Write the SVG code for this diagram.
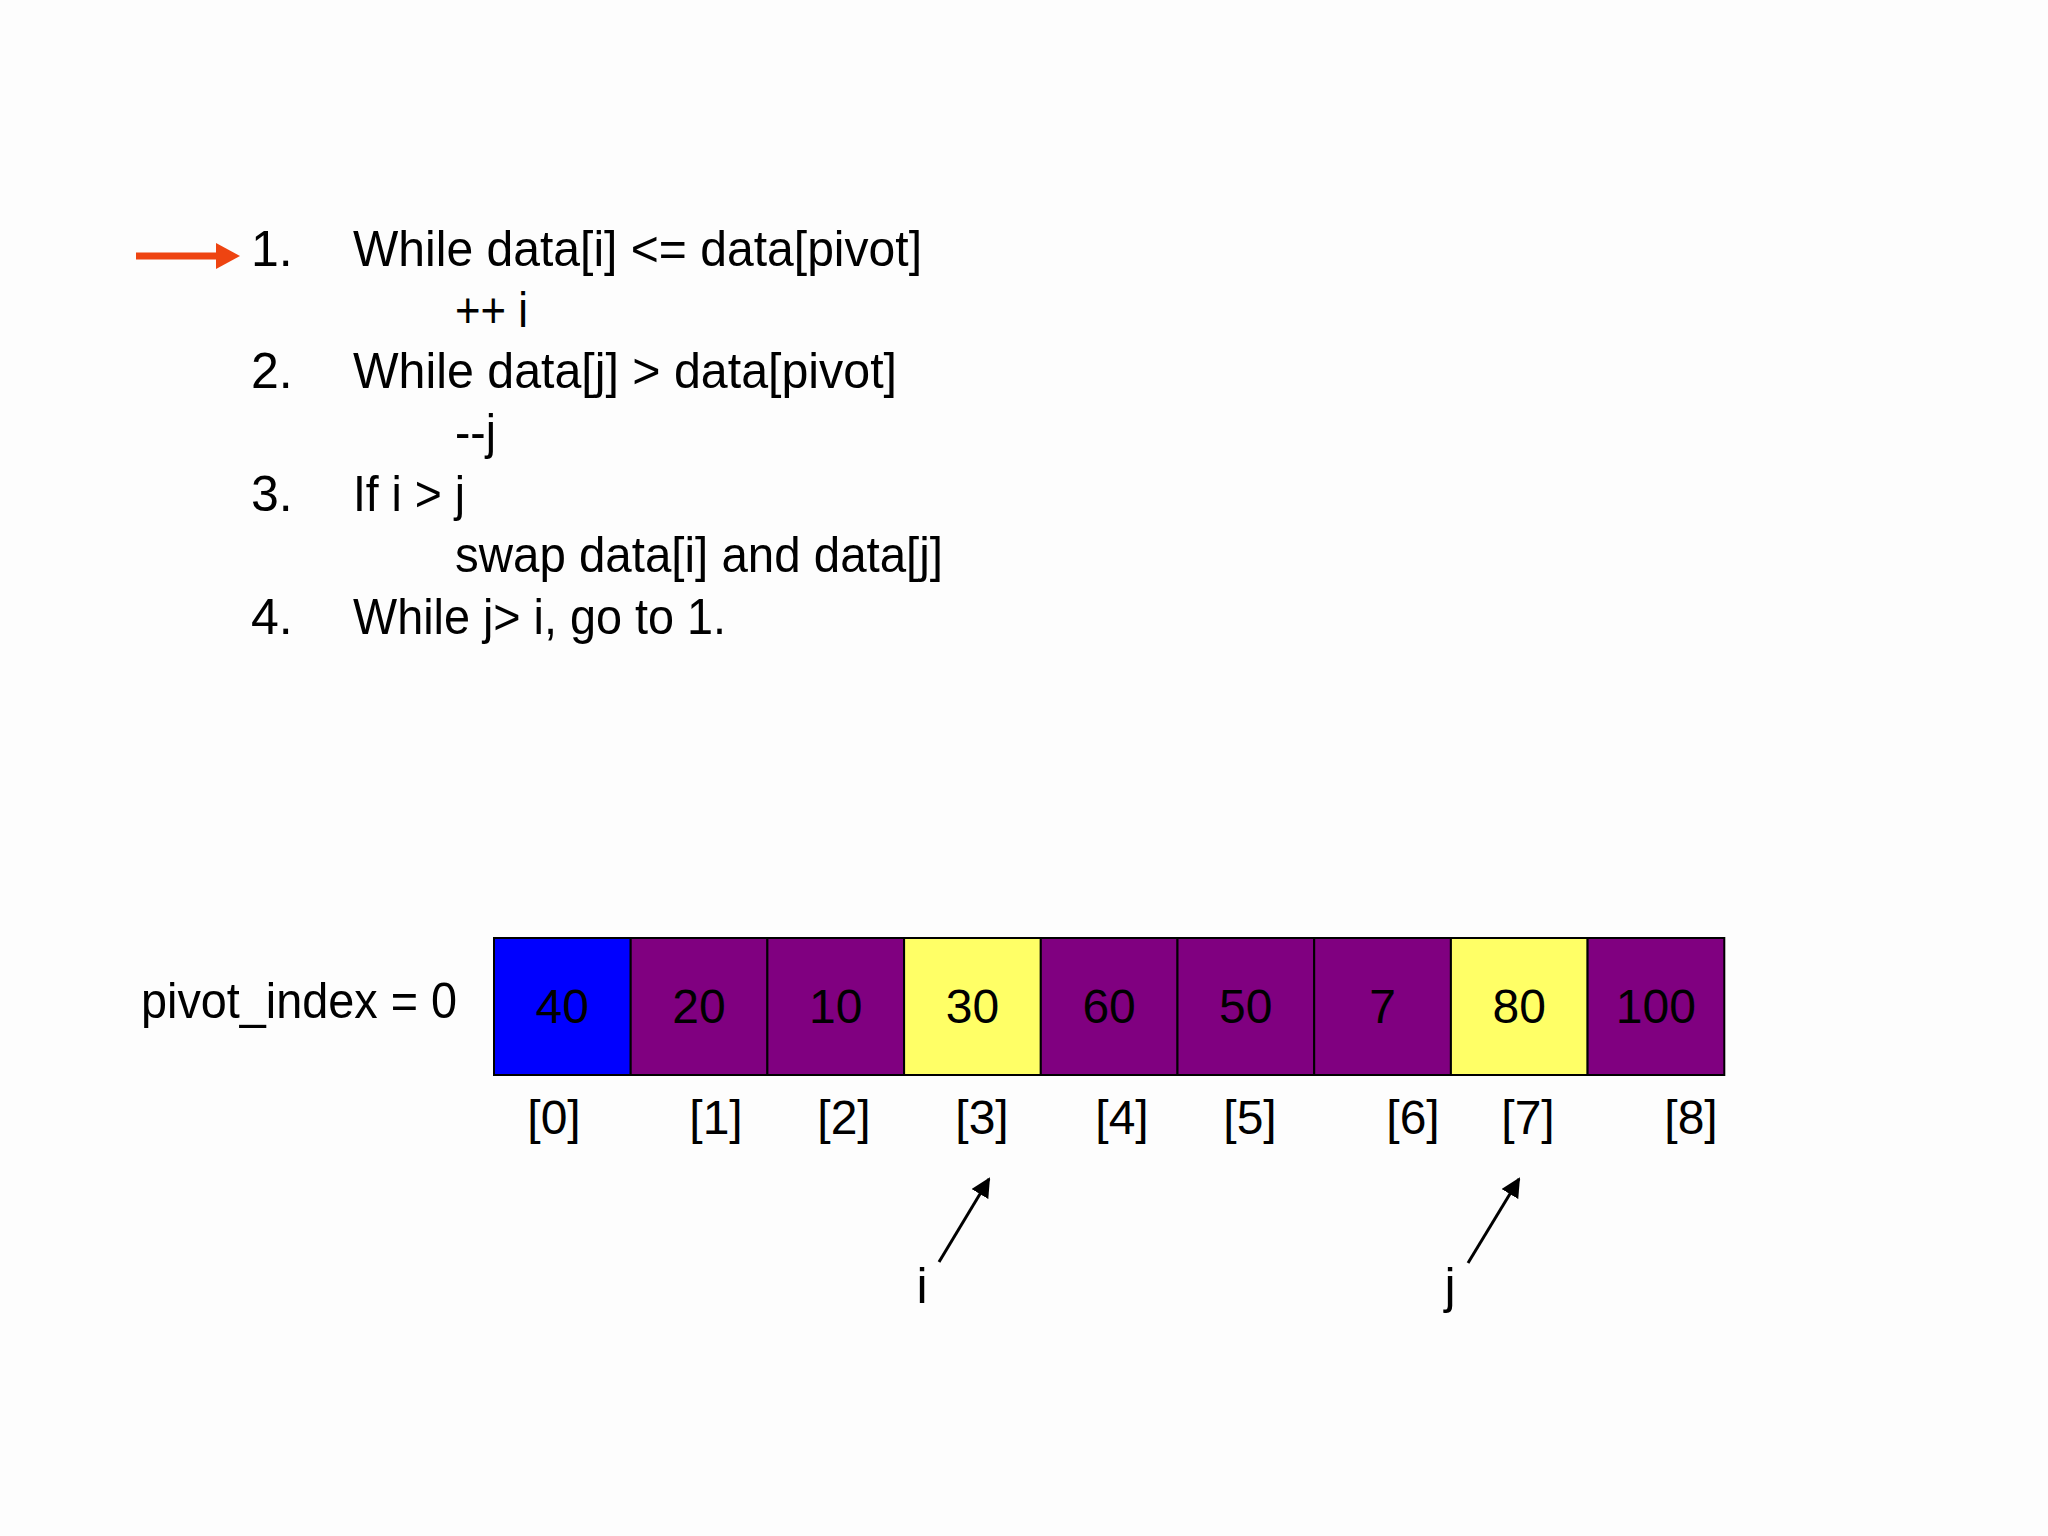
<svg xmlns="http://www.w3.org/2000/svg" width="2048" height="1536" viewBox="0 0 2048 1536">
<style>
text{font-family:"Liberation Sans",Arial,sans-serif;font-size:50px;fill:#000}
.num{text-anchor:middle;font-size:48px}
.idx{text-anchor:middle;font-size:48px}
.cell{stroke:#000;stroke-width:2}
.ptr{stroke:#000;stroke-width:3;fill:none}
</style>
<defs>
<marker id="ah" viewBox="0 0 10 10" refX="9" refY="5" markerWidth="6.5" markerHeight="6.5" orient="auto" markerUnits="strokeWidth">
<path d="M0,0 L10,5 L0,10 z" fill="#000"/>
</marker>
</defs>
<rect width="2048" height="1536" fill="#fdfdfd"/>
<g id="code">
<text x="251" y="266">1.</text>
<text x="353" y="266" textLength="569" lengthAdjust="spacingAndGlyphs">While data[i] &lt;= data[pivot]</text>
<text x="455" y="327" textLength="73" lengthAdjust="spacingAndGlyphs">++ i</text>
<text x="251" y="388">2.</text>
<text x="353" y="388" textLength="544" lengthAdjust="spacingAndGlyphs">While data[j] &gt; data[pivot]</text>
<text x="455" y="449" textLength="41" lengthAdjust="spacingAndGlyphs">--j</text>
<text x="251" y="511">3.</text>
<text x="353" y="511" textLength="112" lengthAdjust="spacingAndGlyphs">If i &gt; j</text>
<text x="455" y="572" textLength="488" lengthAdjust="spacingAndGlyphs">swap data[i] and data[j]</text>
<text x="251" y="634">4.</text>
<text x="353" y="634" textLength="373" lengthAdjust="spacingAndGlyphs">While j&gt; i, go to 1.</text>
</g>
<g id="step-pointer">
<line x1="136" y1="256" x2="220" y2="256" stroke="#EE4411" stroke-width="7"/>
<path d="M216,243 L240,256 L216,269 z" fill="#EE4411"/>
</g>
<text id="pivot-label" x="141" y="1018" textLength="316" lengthAdjust="spacingAndGlyphs">pivot_index = 0</text>
<g id="array">
<g id="cell0"><rect class="cell" x="494" y="938" width="136.7" height="137" fill="#0000FF"/><text class="num" x="562.3" y="1023">40</text></g>
<g id="cell1"><rect class="cell" x="630.7" y="938" width="136.7" height="137" fill="#800080"/><text class="num" x="699" y="1023">20</text></g>
<g id="cell2"><rect class="cell" x="767.4" y="938" width="136.7" height="137" fill="#800080"/><text class="num" x="835.7" y="1023">10</text></g>
<g id="cell3"><rect class="cell" x="904.1" y="938" width="136.7" height="137" fill="#FFFF66"/><text class="num" x="972.4" y="1023">30</text></g>
<g id="cell4"><rect class="cell" x="1040.8" y="938" width="136.7" height="137" fill="#800080"/><text class="num" x="1109.1" y="1023">60</text></g>
<g id="cell5"><rect class="cell" x="1177.5" y="938" width="136.7" height="137" fill="#800080"/><text class="num" x="1245.8" y="1023">50</text></g>
<g id="cell6"><rect class="cell" x="1314.2" y="938" width="136.7" height="137" fill="#800080"/><text class="num" x="1382.5" y="1023">7</text></g>
<g id="cell7"><rect class="cell" x="1450.9" y="938" width="136.7" height="137" fill="#FFFF66"/><text class="num" x="1519.2" y="1023">80</text></g>
<g id="cell8"><rect class="cell" x="1587.6" y="938" width="136.7" height="137" fill="#800080"/><text class="num" x="1655.9" y="1023">100</text></g>
</g>
<g id="indices">
<text class="idx" x="554" y="1134">[0]</text>
<text class="idx" x="716" y="1134">[1]</text>
<text class="idx" x="844" y="1134">[2]</text>
<text class="idx" x="982" y="1134">[3]</text>
<text class="idx" x="1122" y="1134">[4]</text>
<text class="idx" x="1250" y="1134">[5]</text>
<text class="idx" x="1413" y="1134">[6]</text>
<text class="idx" x="1528" y="1134">[7]</text>
<text class="idx" x="1691" y="1134">[8]</text>
</g>
<g id="connectors">
<line class="ptr" x1="939" y1="1262" x2="989" y2="1179" marker-end="url(#ah)"/>
<line class="ptr" x1="1468" y1="1263" x2="1519" y2="1179" marker-end="url(#ah)"/>
</g>
<text id="i-label" x="922" y="1303" text-anchor="middle">i</text>
<text id="j-label" x="1450" y="1303" text-anchor="middle">j</text>
</svg>
